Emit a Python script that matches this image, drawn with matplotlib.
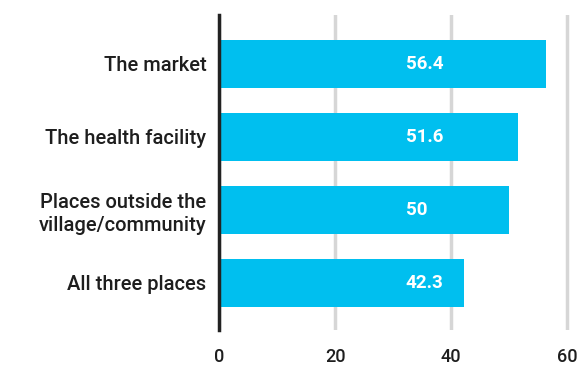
import matplotlib

matplotlib.use('Agg')
import matplotlib.pyplot as plt
import numpy as np

# data
categories = ['The market', 'The health facility',
              'Places outside the\nvillage/community', 'All three places']
values = [56.4, 51.6, 50, 42.3]
xticks = [0, 20, 40, 60]

bar_color = '#00BFEF'
text_color = '#1e1e1e'

plt.rcParams['font.family'] = ['Roboto', 'DejaVu Sans']

fig = plt.figure(figsize=(5.86, 3.67), dpi=100)
ax = fig.add_axes([0.3737, 0.1008, 0.609, 0.858])

y = np.arange(len(categories))
ax.barh(y, values, height=0.66, color=bar_color, zorder=3)

# value labels
for yi, v in zip(y, values):
    ax.text(32.2, yi, f'{v:g}', color='white', fontsize=13.5, fontweight='bold',
            ha='left', va='center', zorder=4)

ax.set_ylim(len(categories) - 0.35, -0.67)
ax.set_xlim(0, 61.5)
ax.set_yticks(y)
ax.set_yticklabels(categories, fontsize=14.5, color=text_color,
                   fontweight='medium', linespacing=1.3)
ax.set_xticks(xticks)
ax.set_xticklabels([str(t) for t in xticks], fontsize=13, color=text_color,
                   fontweight='medium')
ax.tick_params(axis='both', length=0)
ax.tick_params(axis='x', pad=13)
ax.tick_params(axis='y', pad=9)

ax.grid(axis='x', color='#d6d6d6', linewidth=2.5, zorder=0)
for s in ['top', 'right', 'bottom']:
    ax.spines[s].set_visible(False)
ax.spines['left'].set_linewidth(2.5)
ax.spines['left'].set_color('#222222')
ax.spines['left'].set_zorder(5)

plt.savefig('out.png', dpi=100)
plt.close()
